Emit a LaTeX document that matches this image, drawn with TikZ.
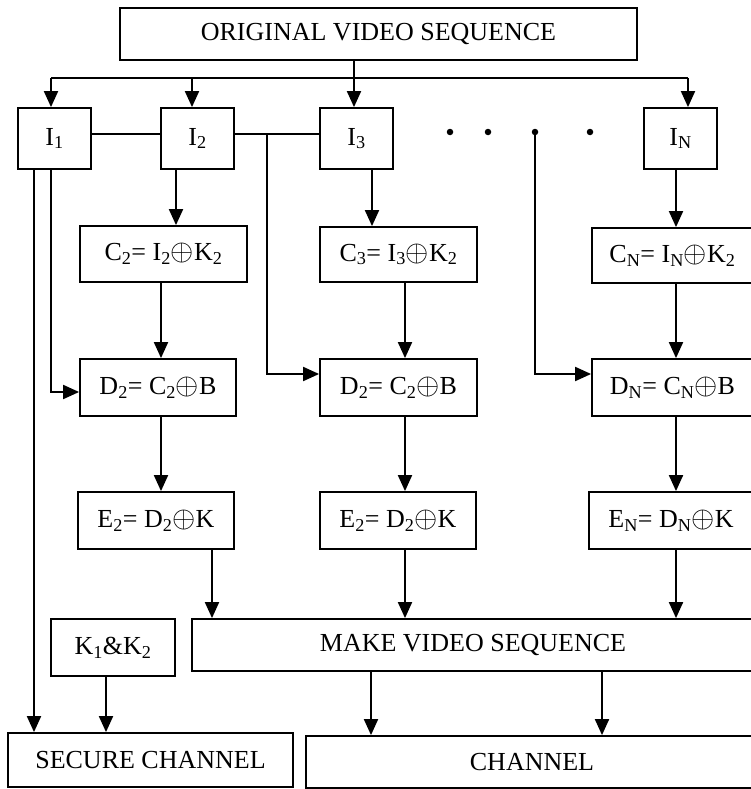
\documentclass[tikz,border=0pt]{standalone}
\usepackage{fontspec}
\usepackage{graphicx}
\setmainfont{Liberation Serif}
\usetikzlibrary{arrows.meta}
\newcommand{\xo}{\scalebox{1.2}{$\oplus$}}
\begin{document}
\begin{tikzpicture}[x=1pt,y=-1pt,
  box/.style={draw,line width=1.8pt,inner sep=0pt,align=center,font=\fontsize{26}{30}\selectfont},
  conn/.style={line width=1.9pt},
  arr/.style={conn,-{Triangle[length=16pt,width=14pt]}},
  dotn/.style={circle,fill,inner sep=0pt,minimum size=6.5pt}]
\useasboundingbox (0,0) rectangle (751,789);
\clip (0,0) rectangle (751,789);
% boxes
\node[box,minimum width=517pt,minimum height=52pt] (orig) at (378.5,34) {ORIGINAL VIDEO SEQUENCE};
\node[box,minimum width=73pt,minimum height=61pt] (i1) at (54.5,138.5) {I\textsubscript{1}};
\node[box,minimum width=73pt,minimum height=61pt] (i2) at (197.5,138.5) {I\textsubscript{2}};
\node[box,minimum width=73pt,minimum height=61pt] (i3) at (356.5,138.5) {I\textsubscript{3}};
\node[box,minimum width=73pt,minimum height=61pt] (iN) at (680.5,138.5) {I\textsubscript{N}};
\node[box,minimum width=167pt,minimum height=56pt] (c2) at (163.5,254) {C\textsubscript{2}= I\textsubscript{2}\xo K\textsubscript{2}};
\node[box,minimum width=157pt,minimum height=55pt] (c3) at (398.5,254.5) {C\textsubscript{3}= I\textsubscript{3}\xo K\textsubscript{2}};
\node[box,minimum width=161pt,minimum height=55pt] (cN) at (672.5,255.5) {C\textsubscript{N}= I\textsubscript{N}\xo K\textsubscript{2}};
\node[box,minimum width=156pt,minimum height=57pt] (d2) at (158,387.5) {D\textsubscript{2}= C\textsubscript{2}\xo B};
\node[box,minimum width=157pt,minimum height=57pt] (d3) at (398.5,387.5) {D\textsubscript{2}= C\textsubscript{2}\xo B};
\node[box,minimum width=161pt,minimum height=57pt] (dN) at (672.5,387.5) {D\textsubscript{N}= C\textsubscript{N}\xo B};
\node[box,minimum width=156pt,minimum height=57pt] (e2) at (156,520.5) {E\textsubscript{2}= D\textsubscript{2}\xo K};
\node[box,minimum width=156pt,minimum height=57pt] (e3) at (398,520.5) {E\textsubscript{2}= D\textsubscript{2}\xo K};
\node[box,minimum width=164pt,minimum height=57pt] (eN) at (671,520.5) {E\textsubscript{N}= D\textsubscript{N}\xo K};
\node[box,minimum width=562pt,minimum height=52pt] (mk) at (473,645) {MAKE VIDEO SEQUENCE};
\node[box,minimum width=124pt,minimum height=57pt] (k12) at (113,647.5) {K\textsubscript{1}\&K\textsubscript{2}};
\node[box,minimum width=285pt,minimum height=54pt] (sec) at (150.5,760) {SECURE CHANNEL};
\node[box,minimum width=452pt,minimum height=52pt] (ch) at (532,762) {CHANNEL};
% dots
\node[dotn] (dot1) at (450,132) {};
\node[dotn] (dot2) at (488,132) {};
\node[dotn] (dot3) at (535,132) {};
\node[dotn] (dot4) at (590,132) {};
% helper coordinates
\coordinate (t1) at (51,78);
\coordinate (t2) at (192,78);
\coordinate (t3) at (354,78);
\coordinate (t4) at (688,78);
\coordinate (hy) at (0,134);
\coordinate (yb) at (0,374);
\coordinate (b3) at (267,134);
\coordinate (xa) at (34,0);
\coordinate (xb) at (51,392);
% top distribution
\draw[conn] (orig.south -| t3) -- (t3);
\draw[conn] (t1) -- (t4);
\draw[arr] (t1) -- (t1 |- i1.north);
\draw[arr] (t2) -- (t2 |- i2.north);
\draw[arr] (t3) -- (t3 |- i3.north);
\draw[arr] (t4) -- (t4 |- iN.north);
% horizontal links between I boxes
\draw[conn] (i1.east |- hy) -- (i2.west |- hy);
\draw[conn] (i2.east |- hy) -- (i3.west |- hy);
% branches to D boxes
\draw[arr] (b3) |- (d3.west |- yb);
\draw[arr] (dot3.center) |- (dN.west |- yb);
\draw[arr] (i1.south -| xb) |- (d2.west |- xb);
\draw[arr] (i1.south -| xa) -- (sec.north -| xa);
% column chains
\draw[arr] (i2.south -| 176,0) -- (c2.north -| 176,0);
\draw[arr] (i3.south -| 372,0) -- (c3.north -| 372,0);
\draw[arr] (iN.south -| 676,0) -- (cN.north -| 676,0);
\draw[arr] (c2.south -| 161,0) -- (d2.north -| 161,0);
\draw[arr] (c3.south -| 405,0) -- (d3.north -| 405,0);
\draw[arr] (cN.south -| 676,0) -- (dN.north -| 676,0);
\draw[arr] (d2.south -| 161,0) -- (e2.north -| 161,0);
\draw[arr] (d3.south -| 405,0) -- (e3.north -| 405,0);
\draw[arr] (dN.south -| 676,0) -- (eN.north -| 676,0);
\draw[arr] (e2.south -| 212,0) -- (mk.north -| 212,0);
\draw[arr] (e3.south -| 405,0) -- (mk.north -| 405,0);
\draw[arr] (eN.south -| 676,0) -- (mk.north -| 676,0);
% bottom
\draw[arr] (k12.south -| 106,0) -- (sec.north -| 106,0);
\draw[arr] (mk.south -| 371,0) -- (ch.north -| 371,0);
\draw[arr] (mk.south -| 602,0) -- (ch.north -| 602,0);
\end{tikzpicture}
\end{document}
